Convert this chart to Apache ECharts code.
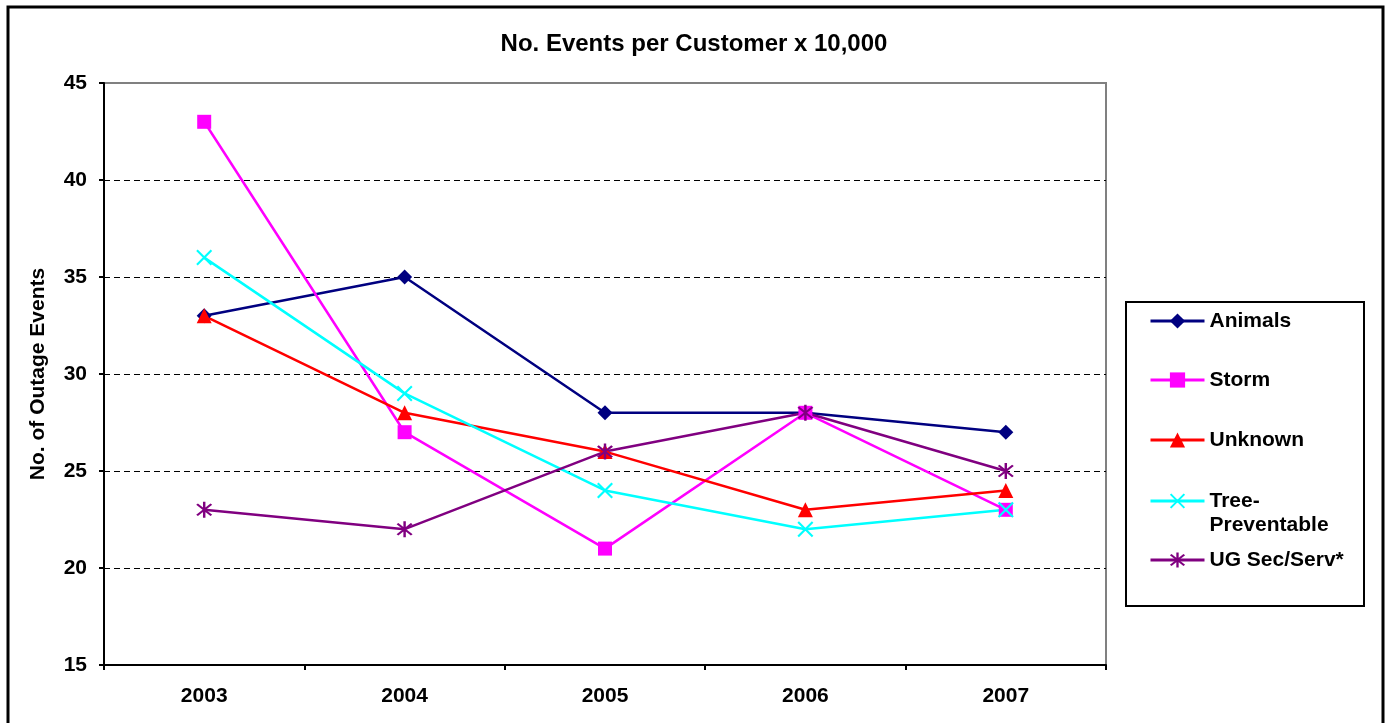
<!DOCTYPE html>
<html>
<head>
<meta charset="utf-8">
<script src="https://cdn.jsdelivr.net/npm/echarts@6/dist/echarts.min.js"></script>
<style>
  html, body { margin: 0; padding: 0; background: #fff; }
  #chart { width: 1388px; height: 723px; }
</style>
</head>
<body>
<div id="chart"></div>
<script>
const years = ["2003", "2004", "2005", "2006", "2007"];
const animals = [33, 35, 28, 28, 27];
const storm = [43, 27, 21, 28, 23];
const unknown = [33, 28, 26, 23, 24];
const tree = [36, 29, 24, 22, 23];
const ugSec = [23, 22, 26, 28, 25];

const FONT = "Liberation Sans";
// X mark and asterisk drawn as filled bars
const xPath = "path://M1.42,0.58L9.42,8.58L8.58,9.42L0.58,1.42Z" +
  "M8.58,0.58L9.42,1.42L1.42,9.42L0.58,8.58Z";
const starPath = "path://M4.4,0L5.6,0L5.6,10L4.4,10Z" +
  "M1.92,1.08L8.92,8.08L8.08,8.92L1.08,1.92Z" +
  "M8.08,1.08L8.92,1.92L1.92,8.92L1.08,8.08Z";

function makeSeries(name, data, color, symbol, size) {
  return {
    name: name,
    type: "line",
    data: data,
    symbol: symbol,
    symbolSize: size,
    showAllSymbol: true,
    lineStyle: { color: color, width: 2.5 },
    itemStyle: { color: color },
    emphasis: { disabled: true },
    animation: false
  };
}

function makeLegend(name, top) {
  return {
    orient: "vertical",
    left: 1149,
    top: top,
    padding: 0,
    itemWidth: 54,
    itemHeight: 19,
    itemGap: 5,
    selectedMode: false,
    data: [name],
    lineStyle: { width: 3 },
    formatter: function(n) {
      // blank first line keeps the icon level with "Tree-"
      return n === "Tree-Preventable" ? "\nTree-\nPreventable" : n;
    },
    textStyle: {
      fontFamily: FONT,
      fontWeight: "bold",
      fontSize: 21,
      color: "#000",
      lineHeight: 24
    }
  };
}

const chart = echarts.init(document.getElementById("chart"));
const option = {
  backgroundColor: "#fff",
  animation: false,
  title: {
    text: "No. Events per Customer x 10,000",
    left: "center",
    top: 27,
    textStyle: { fontFamily: FONT, fontWeight: "bold", fontSize: 24, color: "#000" }
  },
  legend: [
    makeLegend("Animals", 309),
    makeLegend("Storm", 368),
    makeLegend("Unknown", 428),
    makeLegend("Tree-Preventable", 465),
    makeLegend("UG Sec/Serv*", 548)
  ],
  graphic: [
    {
      type: "rect",
      shape: { x: 8, y: 7, width: 1375, height: 730 },
      style: { fill: "none", stroke: "#000", lineWidth: 3 },
      z: 100
    },
    {
      type: "rect",
      shape: { x: 1126, y: 302, width: 238, height: 304 },
      style: { fill: "none", stroke: "#000", lineWidth: 2 },
      z: 100
    }
  ],
  grid: {
    left: 104,
    top: 83,
    right: 282,
    bottom: 58,
    show: true,
    borderColor: "#808080",
    borderWidth: 2,
    backgroundColor: "#fff"
  },
  xAxis: {
    type: "category",
    data: years,
    boundaryGap: true,
    axisLine: { lineStyle: { color: "#000", width: 2 } },
    axisTick: { show: true, length: 5, lineStyle: { color: "#000", width: 2 } },
    axisLabel: {
      margin: 21,
      fontFamily: FONT,
      fontWeight: "bold",
      fontSize: 21,
      color: "#000"
    },
    splitLine: { show: false }
  },
  yAxis: {
    type: "value",
    min: 15,
    max: 45,
    interval: 5,
    name: "No. of Outage Events",
    nameLocation: "middle",
    nameRotate: 90,
    nameGap: 55,
    nameTextStyle: { fontFamily: FONT, fontWeight: "bold", fontSize: 21, color: "#000" },
    axisLine: { show: true, lineStyle: { color: "#000", width: 2 } },
    axisTick: { show: true, length: 5, lineStyle: { color: "#000", width: 2 } },
    axisLabel: {
      margin: 17,
      fontFamily: FONT,
      fontWeight: "bold",
      fontSize: 21,
      color: "#000"
    },
    splitLine: {
      show: true,
      showMinLine: false,
      showMaxLine: false,
      lineStyle: { color: "#000", width: 1, type: [6, 4] }
    }
  },
  series: [
    makeSeries("Animals", animals, "#000080", "diamond", 15),
    makeSeries("Storm", storm, "#FF00FF", "rect", 14),
    makeSeries("Unknown", unknown, "#FF0000", "triangle", 15),
    makeSeries("Tree-Preventable", tree, "#00FFFF", xPath, 16),
    makeSeries("UG Sec/Serv*", ugSec, "#800080", starPath, 16)
  ]
};
chart.setOption(option);
window.addEventListener("resize", () => chart.resize(), false);
</script>
</body>
</html>
